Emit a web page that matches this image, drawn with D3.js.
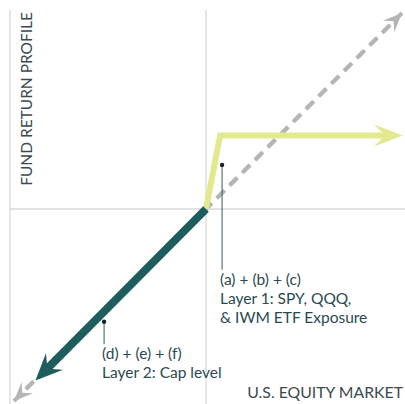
<!DOCTYPE html>
<html>
<head>
<meta charset="utf-8">
<script src="https://cdn.jsdelivr.net/npm/d3@7"></script>
<style>
  body { margin: 0; background: #fff; }
  text { font-family: Lato, "Open Sans", sans-serif; }
</style>
</head>
<body>
<script>
// market return vs fund return (both in the same units, origin at 0,0)
var marketLine = [[-9.8, -9.8], [10, 10]];
var layer1Line = [[0, 0], [0.72, 3.75], [10.05, 3.75]];
var layer2Line = [[0, 0], [-8.7, -8.75]];
var annotations = [
  {point: [0.82, 2.25], end: -3.1, lines: ["(a) + (b) + (c)", "Layer 1: SPY, QQQ,", "& IWM ETF Exposure"]},
  {point: [-5.2, -5.75], end: -6.9, lines: ["(d) + (e) + (f)", "Layer 2: Cap level"]}
];
var xLabel = "U.S. EQUITY MARKET";
var yLabel = "FUND RETURN PROFILE";

var width = 405, height = 404;

var svg = d3.select("body").append("svg")
    .attr("width", width)
    .attr("height", height);

var x = d3.scaleLinear().domain([-10, 10]).range([10, 402]);
var y = d3.scaleLinear().domain([-10, 10]).range([405, 13]);

var grid = "#d9d9d9";
svg.append("line").attr("x1", x(-10)).attr("x2", x(-10)).attr("y1", 10).attr("y2", height)
    .style("stroke", grid).style("stroke-width", 1.3);
svg.append("line").attr("x1", x(0)).attr("x2", x(0)).attr("y1", 10).attr("y2", height)
    .style("stroke", grid).style("stroke-width", 1.3);
svg.append("line").attr("x1", x(-10)).attr("x2", width).attr("y1", y(0)).attr("y2", y(0))
    .style("stroke", grid).style("stroke-width", 1.3);

// draws a polyline with a barbed arrow head at its last point
function arrowLine(pts, opts) {
  var px = pts.map(function(d) { return [x(d[0]), y(d[1])]; });
  var n = px.length;
  var tip = px[n - 1], prev = px[n - 2];
  var dx = tip[0] - prev[0], dy = tip[1] - prev[1];
  var len = Math.sqrt(dx * dx + dy * dy);
  var ux = dx / len, uy = dy / len;
  var L = opts.headLen, W = opts.headWidth, notch = L * 0.62;
  var lineEnd = [tip[0] - ux * notch, tip[1] - uy * notch];
  var linePts = px.slice(0, n - 1).concat([lineEnd]);

  var path = svg.append("path")
      .attr("d", d3.line()(linePts))
      .style("fill", "none")
      .style("stroke", opts.color)
      .style("stroke-width", opts.width)
      .style("stroke-linejoin", "miter");
  if (opts.dash) path.style("stroke-dasharray", opts.dash);

  var back = [tip[0] - ux * L, tip[1] - uy * L];
  var head = [
    tip,
    [back[0] - uy * W, back[1] + ux * W],
    [tip[0] - ux * notch, tip[1] - uy * notch],
    [back[0] + uy * W, back[1] - ux * W]
  ];
  svg.append("path")
      .attr("d", d3.line()(head) + "Z")
      .style("fill", opts.color);
}

// market line: dashed with arrows at both ends
arrowLine(marketLine, {color: "#b5b5b5", width: 4, dash: "10,8", headLen: 19, headWidth: 8});
arrowLine([marketLine[1], marketLine[0]], {color: "#b5b5b5", width: 4, dash: "10,8", headLen: 19, headWidth: 8});

arrowLine(layer1Line, {color: "#e3e98f", width: 6, headLen: 29, headWidth: 11});
arrowLine(layer2Line, {color: "#1e5d5d", width: 8, headLen: 27, headWidth: 12});

var textColor = "#2a4a52";
annotations.forEach(function(a) {
  var cx = x(a.point[0]), cy = y(a.point[1]);
  svg.append("line").attr("x1", cx).attr("x2", cx).attr("y1", cy).attr("y2", y(a.end))
      .style("stroke", "#3b5a60").style("stroke-width", 1);
  svg.append("circle").attr("cx", cx).attr("cy", cy).attr("r", 2.2).style("fill", "#10262a");
  var t = svg.append("text")
      .attr("x", cx - 2)
      .attr("y", y(a.end) + 15)
      .style("font-size", "15.5px")
      .style("fill", textColor);
  a.lines.forEach(function(s, i) {
    t.append("tspan").attr("x", cx - 2).attr("dy", i ? 19 : 0).text(s);
  });
});

svg.append("text")
    .attr("x", 403).attr("y", 398)
    .attr("text-anchor", "end")
    .style("font-size", "15.8px")
    .style("fill", "#3a4a50")
    .text(xLabel);

svg.append("text")
    .attr("transform", "translate(32,12) rotate(-90)")
    .attr("text-anchor", "end")
    .style("font-size", "15.5px")
    .style("fill", "#3a4a50")
    .text(yLabel);
</script>
</body>
</html>
